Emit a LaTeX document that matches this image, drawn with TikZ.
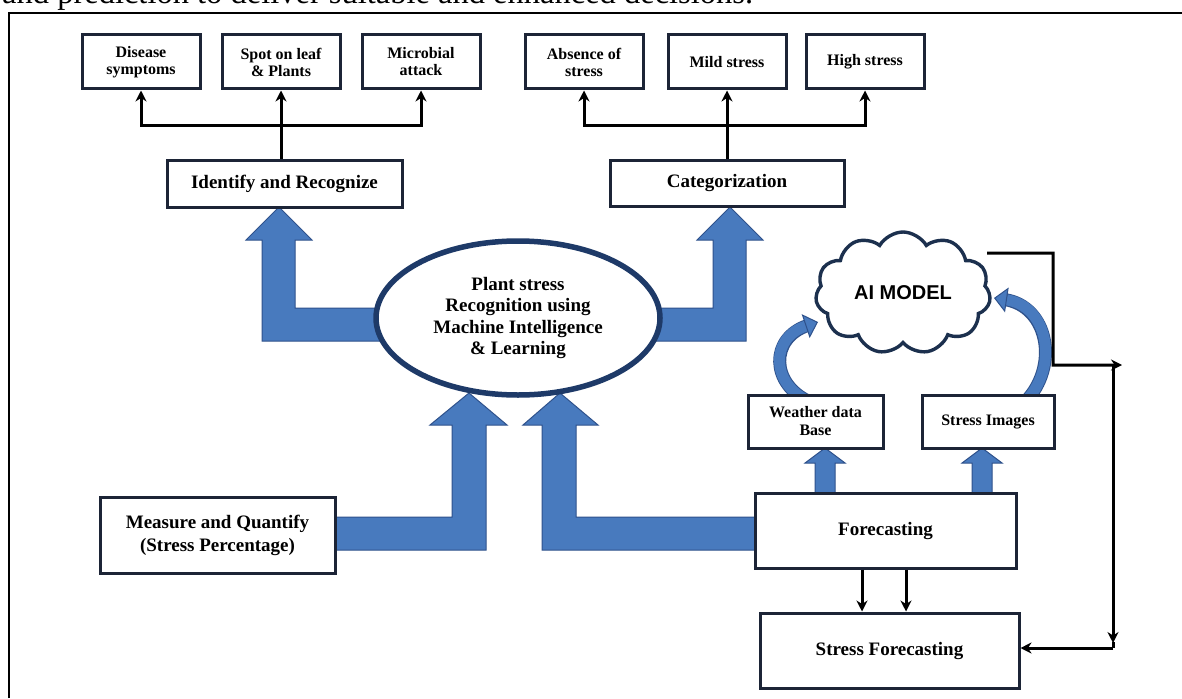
\documentclass[tikz,border=0pt]{standalone}
\usepackage{fontspec}
\setmainfont{Liberation Serif}
\newfontfamily\aisans{Liberation Sans}
\usetikzlibrary{shapes.geometric,shapes.symbols,arrows.meta,calc}

\definecolor{arrowblue}{RGB}{72,122,190}
\definecolor{arrowedge}{RGB}{47,82,140}
\definecolor{boxedge}{RGB}{28,36,54}
\definecolor{ellipseedge}{RGB}{30,58,104}
\definecolor{cloudedge}{RGB}{28,48,78}

\tikzset{bktip/.tip={Stealth[length=11pt,width=11pt]}}

\begin{document}
\begin{tikzpicture}[x=1pt,y=-1pt,
  box/.style={draw=boxedge, line width=3pt, fill=white, align=center, inner sep=0pt},
  smallbox/.style={box, minimum width=118pt, minimum height=54pt,
    font=\fontsize{16}{17}\selectfont\bfseries},
  bigbox/.style={box, font=\fontsize{19}{23}\selectfont\bfseries},
  conn/.style={line width=3pt, black, -{bktip}},
  plainline/.style={line width=3pt, black},
  block/.style={fill=arrowblue, draw=arrowedge, line width=1pt, line join=miter},
  curveedge/.style={arrowedge, line width=13pt},
  curvefill/.style={arrowblue, line width=11pt,
    -{Triangle[length=13pt,width=25pt,color=arrowedge,fill=arrowblue,line width=1pt]}}]

\clip (0,0) rectangle (1182,698);
\fill[white] (0,0) rectangle (1182,698);

% running text line above the frame
\node[anchor=base west, inner sep=0pt, font=\fontsize{32.5}{36}\selectfont] (lead) at (2,4)
  {and prediction to deliver suitable and enhanced decisions.};

% frame
\draw[line width=1.6pt] (9,698) -- (9,13) -- (1182,13);

% ---- wide block arrows ----
% up to "Identify and Recognize"
\draw[block] (279,207) -- (312,240) -- (295,240) -- (295,308) -- (400,308) -- (400,341)
  -- (262,341) -- (262,240) -- (246,240) -- cycle;
% up to "Categorization"
\draw[block] (730,207) -- (763,240) -- (746,240) -- (746,341) -- (640,341) -- (640,308)
  -- (713,308) -- (713,240) -- (697,240) -- cycle;
% from "Measure and Quantify"
\draw[block] (469,393) -- (507,425) -- (486,425) -- (486,550) -- (330,550) -- (330,517)
  -- (452,517) -- (452,425) -- (430,425) -- cycle;
% from "Forecasting"
\draw[block] (560,393) -- (598,425) -- (576,425) -- (576,517) -- (760,517) -- (760,550)
  -- (542,550) -- (542,425) -- (523,425) -- cycle;
% small arrows from "Forecasting"
\draw[block] (825,448) -- (845,463) -- (835,463) -- (835,497) -- (815,497) -- (815,463)
  -- (805,463) -- cycle;
\draw[block] (982,448) -- (1002,463) -- (992,463) -- (992,497) -- (972,497) -- (972,463)
  -- (962,463) -- cycle;

% ---- top row ----
\node[smallbox] (dis) at (141,62) {Disease\\symptoms};
\node[smallbox] (spot) at (281,62) {Spot on leaf\\\& Plants};
\node[smallbox] (mic) at (421,62) {Microbial\\attack};
\node[smallbox] (abs) at (584,62) {Absence of\\stress};
\node[smallbox] (mild) at (727,62) {Mild stress};
\node[smallbox] (high) at (865,62) {High stress};

\node[bigbox, minimum width=235pt, minimum height=47pt] (ident) at (284.5,183.5) {Identify and Recognize};
\node[bigbox, minimum width=234pt, minimum height=46pt] (cat) at (727,183) {Categorization};

% ---- centre ----
\node[ellipse, draw=ellipseedge, line width=5.5pt, fill=white, inner sep=0pt,
  minimum width=284pt, minimum height=154pt, align=center,
  font=\fontsize{19}{21.5}\selectfont\bfseries] (core) at (518,318)
  {Plant stress\\Recognition using\\Machine Intelligence\\\& Learning};

\node[bigbox, minimum width=235pt, minimum height=76pt] (meas) at (217.5,535)
  {Measure and Quantify\\(Stress Percentage)};

% ---- AI model and its inputs ----
\node[cloud, cloud puffs=11, cloud puff arc=120, cloud ignores aspect,
  minimum width=175pt, minimum height=122pt, draw=cloudedge, line width=3.4pt,
  fill=white, inner sep=0pt, font=\aisans\bfseries\fontsize{20}{24}\selectfont] (ai) at (903,293) {AI MODEL};

\draw[curveedge, shorten >=11pt] (810,402) .. controls (770,384) and (770,338) .. (818,322);
\draw[curvefill] (810,402) .. controls (770,384) and (770,338) .. (818,322);
\draw[curveedge, shorten >=11pt] (1025,402) .. controls (1060,366) and (1048,306) .. (994,298);
\draw[curvefill] (1025,402) .. controls (1060,366) and (1048,306) .. (994,298);

\node[box, minimum width=135pt, minimum height=53pt,
  font=\fontsize{16}{18}\selectfont\bfseries] (wx) at (815.5,421.5) {Weather data\\Base};
\node[box, minimum width=132pt, minimum height=53pt,
  font=\fontsize{16}{18}\selectfont\bfseries] (simg) at (988,421.5) {Stress Images};

\node[bigbox, minimum width=261pt, minimum height=75pt] (fc) at (885.5,530.5) {Forecasting};
\node[bigbox, minimum width=259pt, minimum height=75pt] (sfc) at (889.5,650.5) {Stress Forecasting};

% ---- black connectors ----
\coordinate (lbus) at (281,125);
\coordinate (rbus) at (727,125);
\draw[conn] (ident.north -| spot.south) -- (spot.south);
\draw[plainline, {bktip}-{bktip}]
  (dis.south) -- (dis.south |- lbus) -- (mic.south |- lbus) -- (mic.south);
\draw[conn] (cat.north -| mild.south) -- (mild.south);
\draw[plainline, {bktip}-{bktip}]
  (abs.south) -- (abs.south |- rbus) -- (high.south |- rbus) -- (high.south);

\draw[conn] ([xshift=-23.5pt]fc.south) -- ([xshift=-23.5pt]fc.south |- sfc.north);
\draw[conn] ([xshift=20.5pt]fc.south) -- ([xshift=20.5pt]fc.south |- sfc.north);

\coordinate (loopout) at (1122,365);
\coordinate (drop) at (1113,365);
\coordinate (dropend) at (1113,643);
\coordinate (rcorner) at (1113,648);
\draw[conn] ([xshift=-4pt,yshift=40pt]ai.east) -- (1053,253) -- (1053,365) -- (loopout);
\draw[conn] (drop) -- (dropend);
\draw[conn] (rcorner) -- (sfc.east |- rcorner);
\draw[plainline] (rcorner) -- ++(0,-6);

\end{tikzpicture}
\end{document}
